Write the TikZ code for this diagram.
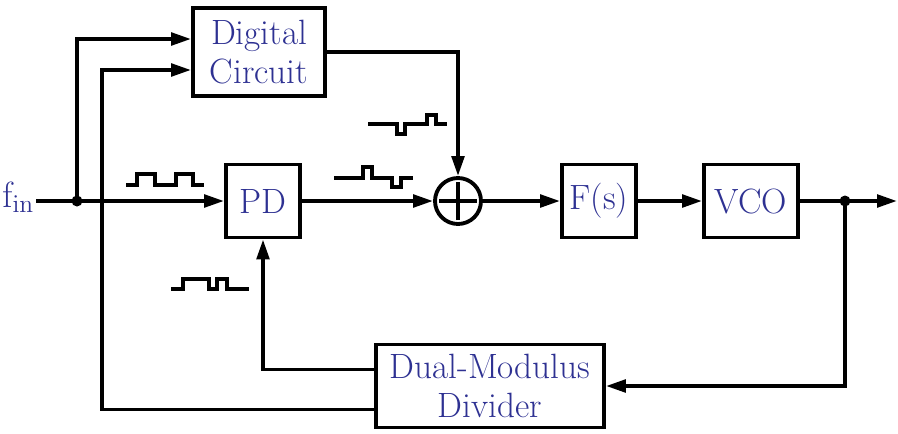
\documentclass[tikz,border=0pt]{standalone}
\usepackage{xcolor}
\usepackage{tikz}
\usetikzlibrary{arrows.meta,positioning}
\definecolor{labelblue}{RGB}{46,49,146}

\begin{document}
\begin{tikzpicture}[
  x=0.02cm, y=-0.02cm,
  line width=2.2pt,
  box/.style={draw, line width=2.2pt, align=center, inner sep=0pt, font=\fontsize{20}{22}\selectfont, text=labelblue},
  arrow/.style={-{Triangle[length=0.4cm,width=0.25cm]}},
  wave/.style={line width=2pt},
  dot/.style={circle, fill, inner sep=0pt, minimum size=0.22cm}
]
\useasboundingbox (0,0) rectangle (898,433);

\node[box, minimum width=2.64cm, minimum height=1.76cm] (dig) at (259,52) {Digital\\Circuit};
\node[box, minimum width=1.48cm, minimum height=1.46cm] (pd) at (263,201) {PD};
\node[draw, circle, line width=2.2pt, minimum size=0.92cm, inner sep=0pt] (sum) at (458,201) {};
\node[box, minimum width=1.48cm, minimum height=1.46cm] (fs) at (599,201) {F(s)};
\node[box, minimum width=1.88cm, minimum height=1.46cm] (vco) at (751,201) {VCO};
\node[box, minimum width=4.56cm, minimum height=1.66cm] (div) at (490,386) {Dual-Modulus\\Divider};
\node[anchor=base east, inner sep=0pt, text=labelblue, font=\fontsize{21}{22}\selectfont] (fin) at (36,207) {$\mathrm{f}_{\mathrm{in}}$};
\node[dot] (jin) at (77,201) {};
\node[dot] (jout) at (845,201) {};
\coordinate (out) at (897,201);

% plus sign
\draw[line width=2.6pt] ([xshift=-0.38cm]sum.center) -- ([xshift=0.38cm]sum.center);
\draw[line width=2.6pt] ([yshift=-0.38cm]sum.center) -- ([yshift=0.38cm]sum.center);

% forward path
\draw[arrow] (fin.east |- pd) -- (pd);
\draw[arrow] (pd) -- (sum);
\draw[arrow] (sum) -- (fs);
\draw[arrow] (fs) -- (vco);
\draw (vco) -- (jout.center);
\draw[arrow] (jout.center) -- (out);

% digital circuit
\draw[arrow] (jin.center) |- ([yshift=0.26cm]dig.west);
\draw[arrow] ([yshift=-0.47cm]div.west) -- ++(-272,0) |- ([yshift=-0.36cm]dig.west);
\draw[arrow] (dig.east) -| (sum.north);

% feedback
\draw[arrow] (jout.center) |- (div.east);
\draw[arrow] ([yshift=0.33cm]div.west) -| (pd.south);

% waveforms
\draw[wave] (126,185) -- (137,185) -- (137,174) -- (155,174) -- (155,185) -- (176,185) -- (176,174) -- (193,174) -- (193,185) -- (204,185);
\draw[wave] (334,178) -- (363,178) -- (363,167) -- (372,167) -- (372,178) -- (392,178) -- (392,187) -- (401,187) -- (401,178) -- (413,178);
\draw[wave] (368,124) -- (397,124) -- (397,134) -- (405,134) -- (405,124) -- (427,124) -- (427,115) -- (436,115) -- (436,124) -- (447,124);
\draw[wave] (171,289) -- (183,289) -- (183,279) -- (209,279) -- (209,289) -- (217,289) -- (217,279) -- (227,279) -- (227,289) -- (249,289);
\end{tikzpicture}
\end{document}
